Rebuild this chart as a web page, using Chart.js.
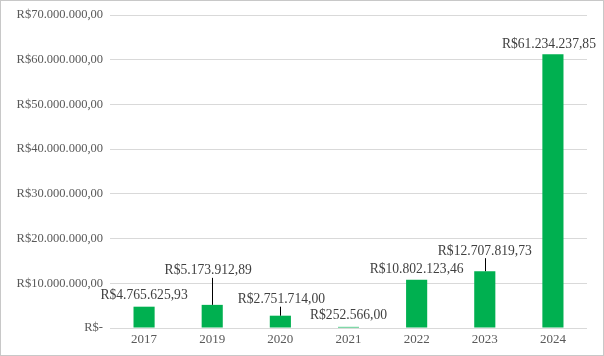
<!DOCTYPE html>
<html>
<head>
<meta charset="utf-8">
<script src="https://cdn.jsdelivr.net/npm/chart.js@4/dist/chart.umd.min.js"></script>
<style>
  html, body { margin: 0; padding: 0; background: #fff; }
  #wrap { position: relative; width: 604px; height: 356px; }
  canvas { display: block; }
</style>
</head>
<body>
<div id="wrap"><canvas id="c" width="604" height="356"></canvas></div>
<script>
const categories = ['2017', '2019', '2020', '2021', '2022', '2023', '2024'];
const values = [4765625.93, 5173912.89, 2751714.00, 252566.00, 10802123.46, 12707819.73, 61234237.85];
const yTicks = [0, 10000000, 20000000, 30000000, 40000000, 50000000, 60000000, 70000000];

function brl(v) {
  if (v === 0) return 'R$-';
  const fixed = Math.abs(v).toFixed(2);
  const parts = fixed.split('.');
  const intPart = parts[0].replace(/\B(?=(\d{3})+(?!\d))/g, '.');
  return 'R$' + intPart + ',' + parts[1];
}

const FONT = "'Liberation Serif', 'DejaVu Serif', serif";

const labelPlugin = {
  id: 'barLabels',
  afterDatasetsDraw(chart, args, opts) {
    const ctx = chart.ctx;
    const meta = chart.getDatasetMeta(0);
    ctx.save();
    ctx.font = opts.font;
    ctx.fillStyle = opts.color;
    ctx.textAlign = 'center';
    ctx.textBaseline = 'middle';
    meta.data.forEach((bar, i) => {
      const off = opts.offsets[i];
      const x = bar.x + (opts.dx[i] || 0);
      const y = bar.y - off;
      ctx.fillText(brl(chart.data.datasets[0].data[i]), x, y);
      if (off > 14) {
        ctx.strokeStyle = '#000';
        ctx.lineWidth = 1;
        ctx.beginPath();
        ctx.moveTo(Math.round(bar.x) + 0.5, y + 7);
        ctx.lineTo(Math.round(bar.x) + 0.5, bar.y);
        ctx.stroke();
      }
    });
    ctx.restore();
  }
};

const borderPlugin = {
  id: 'outerBorder',
  afterDraw(chart) {
    const ctx = chart.ctx;
    ctx.save();
    ctx.strokeStyle = '#c8c8c8';
    ctx.lineWidth = 1;
    ctx.strokeRect(0.5, 0.5, chart.width - 1, chart.height - 1);
    ctx.restore();
  }
};

new Chart(document.getElementById('c'), {
  type: 'bar',
  data: {
    labels: categories,
    datasets: [{
      data: values,
      backgroundColor: '#00B050',
      borderWidth: 0,
      barPercentage: 0.31,
      categoryPercentage: 1.0
    }]
  },
  options: {
    responsive: false,
    animation: false,
    devicePixelRatio: 1,
    layout: { padding: { left: 0, right: 17, top: 15, bottom: 0 } },
    plugins: {
      legend: { display: false },
      tooltip: { enabled: false },
      barLabels: {
        font: "13.6px " + FONT,
        color: '#404040',
        offsets: [11, 34, 16, 11, 10.5, 20, 10],
        dx: [0, -4, 1, 0, 0, 0, -4]
      }
    },
    scales: {
      x: {
        grid: { display: false, drawTicks: false },
        border: { display: false },
        ticks: {
          color: '#595959',
          font: { family: FONT, size: 13 },
          padding: 4,
          maxRotation: 0
        },
        afterFit(scale) { scale.height = 28; }
      },
      y: {
        min: 0,
        max: 70000000,
        afterBuildTicks(scale) { scale.ticks = yTicks.map(v => ({ value: v })); },
        grid: { color: '#d9d9d9', lineWidth: 1, drawTicks: false },
        border: { display: false },
        ticks: {
          color: '#595959',
          font: { family: FONT, size: 12.5 },
          padding: 7,
          callback: (v) => brl(v)
        },
        afterFit(scale) { scale.width = 110; }
      }
    }
  },
  plugins: [labelPlugin, borderPlugin]
});
</script>
</body>
</html>
